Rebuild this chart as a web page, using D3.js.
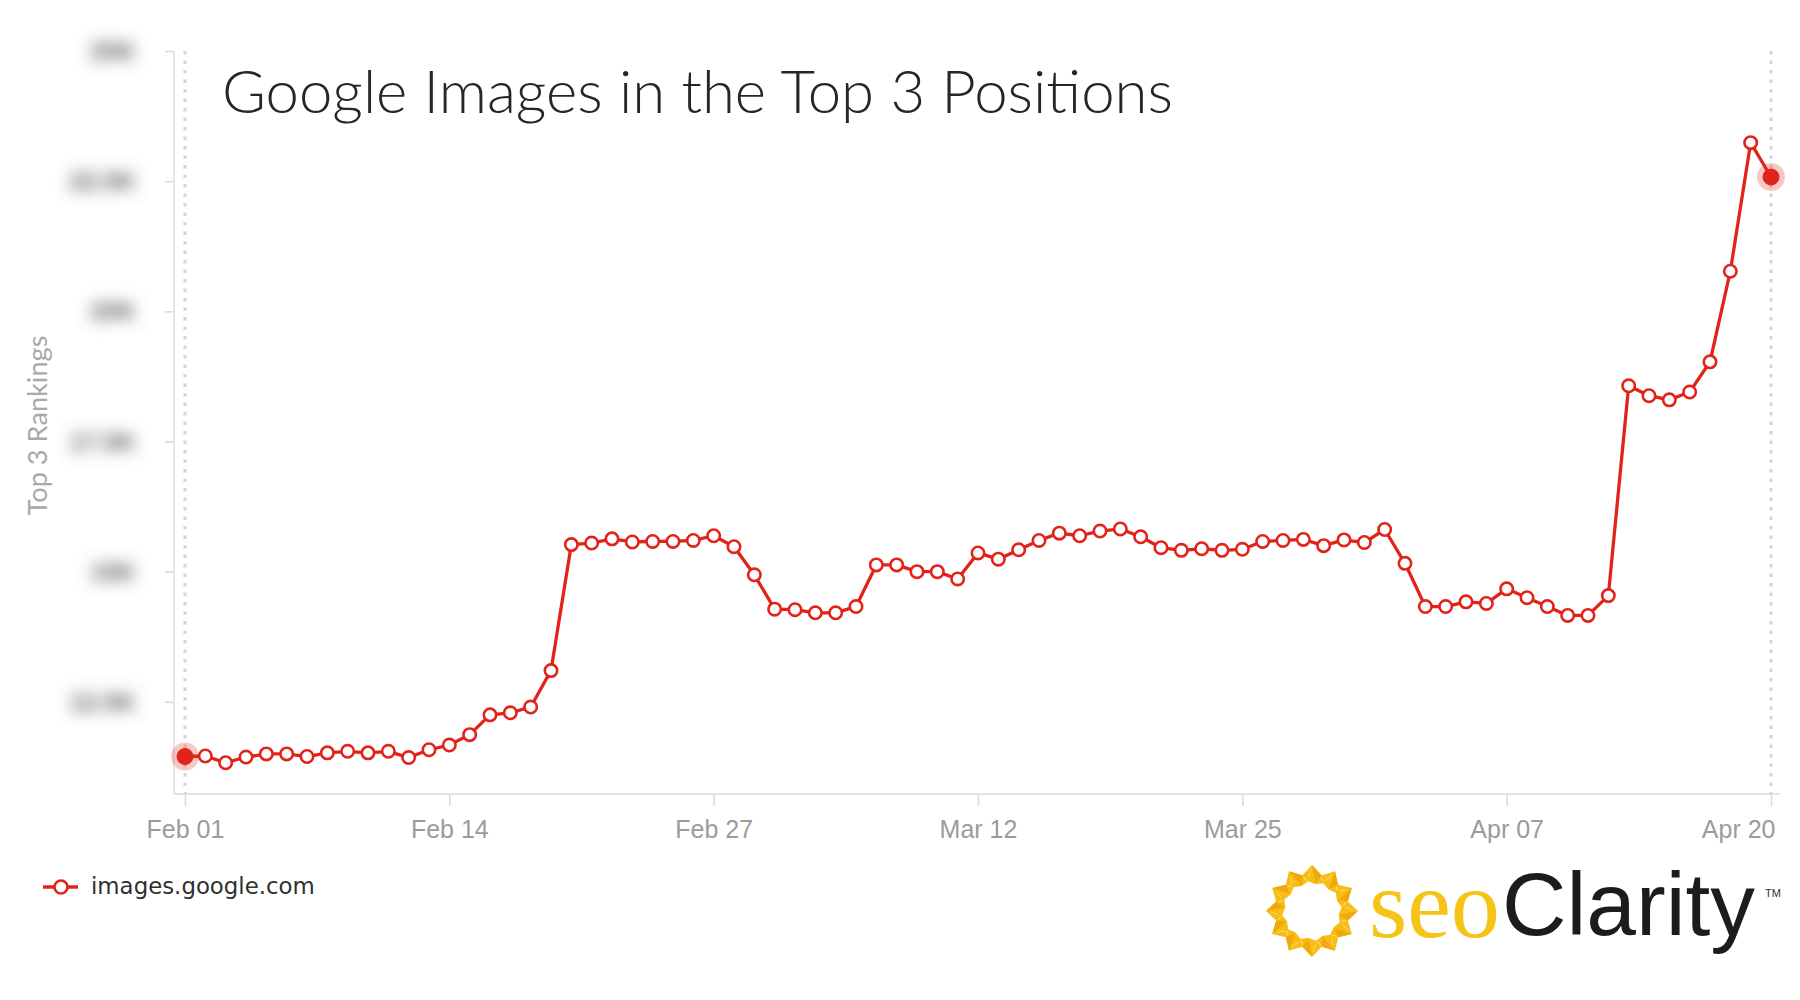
<!DOCTYPE html>
<html>
<head>
<meta charset="utf-8">
<script src="https://cdn.jsdelivr.net/npm/d3@7"></script>
<style>
  html, body { margin: 0; padding: 0; background: #fff; }
  svg { display: block; }
</style>
</head>
<body>
<svg id="chart" width="1800" height="1000"></svg>
<script>
// ---------------- data ----------------
const chartTitle = "Google Images in the Top 3 Positions";
const yAxisTitle = "Top 3 Rankings";
const seriesName = "images.google.com";
const startDate = "2017-02-01";
const endDate = "2017-04-20";
// one value per day, Feb 01 .. Apr 20
const values = [
  11450, 11460, 11330, 11440, 11500, 11500, 11450, 11520, 11550, 11520,
  11550, 11430, 11580, 11670, 11870, 12250, 12290, 12400, 13100, 15520,
  15550, 15630, 15570, 15580, 15580, 15600, 15690, 15480, 14940, 14280,
  14270, 14210, 14210, 14330, 15130, 15130, 15000, 15000, 14860, 15360,
  15240, 15420, 15600, 15740, 15690, 15780, 15820, 15670, 15460, 15410,
  15440, 15410, 15430, 15580, 15600, 15620, 15500, 15610, 15560, 15810,
  15160, 14330, 14330, 14420, 14390, 14670, 14500, 14330, 14160, 14160,
  14540, 18570, 18380, 18300, 18450, 19030, 20770, 23240, 22580
];
const xTickLabels = ["Feb 01", "Feb 14", "Feb 27", "Mar 12", "Mar 25", "Apr 07", "Apr 20"];
const yTickValues = [12500, 15000, 17500, 20000, 22500, 25000];
const yTickLabels = ["12.5K", "15K", "17.5K", "20K", "22.5K", "25K"];
const yDomain = [10730, 25000];

// ---------------- layout ----------------
const W = 1800, H = 1000;
const plot = { left: 174, right: 1780, top: 51, bottom: 794 };
const firstX = 185, lastX = 1771;
const RED = "#e2231a";

const svg = d3.select("#chart");
svg.append("rect").attr("width", W).attr("height", H).attr("fill", "#fff");

const defs = svg.append("defs");
defs.append("filter").attr("id", "blur").attr("x", "-60%").attr("y", "-150%")
  .attr("width", "220%").attr("height", "400%")
  .append("feGaussianBlur").attr("stdDeviation", 7.5);

const parseDay = d3.timeParse("%Y-%m-%d");
const days = d3.timeDay.range(parseDay(startDate), d3.timeDay.offset(parseDay(endDate), 1));
const data = days.map((d, i) => ({ date: d, value: values[i] }));

const x = d3.scaleTime().domain([parseDay(startDate), parseDay(endDate)]).range([firstX, lastX]);
const y = d3.scaleLinear().domain(yDomain).range([plot.bottom, plot.top]);

function fitText(sel, target) {
  const node = sel.node();
  const fs = parseFloat(sel.attr("font-size"));
  const w = node.getComputedTextLength();
  if (w > 0) sel.attr("font-size", (fs * target / w).toFixed(2));
  return sel;
}

// ---------------- y axis ----------------
const yAxisG = svg.append("g").attr("transform", `translate(${plot.left},0)`)
  .call(d3.axisLeft(y).tickValues(yTickValues).tickSize(9).tickFormat(""));
yAxisG.select(".domain").remove();
yAxisG.selectAll(".tick line").attr("stroke", "#d9d9d9").attr("stroke-width", 1.5);
svg.append("line")
  .attr("x1", plot.left).attr("x2", plot.left)
  .attr("y1", plot.top).attr("y2", plot.bottom)
  .attr("stroke", "#e6e6e6").attr("stroke-width", 2);

// blurred y tick labels
svg.append("g").selectAll("text").data(yTickValues).join("text")
  .attr("x", 136).attr("y", d => y(d))
  .attr("dy", "0.36em")
  .attr("text-anchor", "end")
  .attr("font-family", "Liberation Sans, Arial, sans-serif")
  .attr("font-size", 25)
  .attr("font-weight", "bold")
  .attr("fill", "#5e5e5e")
  .attr("filter", "url(#blur)")
  .text((d, i) => yTickLabels[i]);

// y axis title
const yt = svg.append("text")
  .attr("transform", `translate(47,${(335 + 516) / 2}) rotate(-90)`)
  .attr("text-anchor", "middle")
  .attr("font-family", "Lato, Open Sans, sans-serif")
  .attr("font-size", 22)
  .attr("fill", "#a9a9a9")
  .text(yAxisTitle);
fitText(yt, 180);

// ---------------- x axis ----------------
const parseTick = d3.timeParse("%b %d %Y");
const xTickDates = xTickLabels.map(s => parseTick(s + " 2017"));
const xAxisG = svg.append("g").attr("transform", `translate(0,${plot.bottom})`)
  .call(d3.axisBottom(x).tickValues(xTickDates).tickSize(12).tickFormat((d, i) => xTickLabels[i]));
xAxisG.select(".domain").remove();
xAxisG.selectAll(".tick line").attr("stroke", "#d9d9d9").attr("stroke-width", 1.5);
xAxisG.selectAll(".tick text")
  .attr("y", 44).attr("dy", 0)
  .attr("font-family", "Liberation Sans, Arial, sans-serif")
  .attr("font-size", 25)
  .attr("fill", "#9b9b9b");
// keep the last label inside the plot area (right aligned)
xAxisG.selectAll(".tick").each(function (d) {
  const t = d3.select(this).select("text");
  const w = t.node().getComputedTextLength();
  const cx = x(d);
  if (cx + w / 2 > plot.right - 5) {
    t.attr("text-anchor", "end").attr("x", (plot.right - 5) - cx);
  }
});
svg.append("line")
  .attr("x1", plot.left).attr("x2", plot.right)
  .attr("y1", plot.bottom).attr("y2", plot.bottom)
  .attr("stroke", "#e3e3e3").attr("stroke-width", 2);

// dotted vertical lines at first and last point
svg.append("g").selectAll("line").data([data[0], data[data.length - 1]]).join("line")
  .attr("x1", d => x(d.date)).attr("x2", d => x(d.date))
  .attr("y1", plot.top).attr("y2", plot.bottom)
  .attr("stroke", "#d4d4d4").attr("stroke-width", 3)
  .attr("stroke-dasharray", "3.5,6");

// ---------------- title ----------------
const title = svg.append("text")
  .attr("x", 222).attr("y", 113)
  .attr("font-family", "Lato, Open Sans, sans-serif")
  .attr("font-weight", 300)
  .attr("font-size", 58)
  .attr("fill", "#262626")
  .text(chartTitle);
fitText(title, 951);

// ---------------- series ----------------
const line = d3.line().x(d => x(d.date)).y(d => y(d.value));
svg.append("path").datum(data)
  .attr("d", line)
  .attr("fill", "none")
  .attr("stroke", RED)
  .attr("stroke-width", 3.3)
  .attr("stroke-linejoin", "round");

const inner = data.slice(1, -1);
svg.append("g").selectAll("circle").data(inner).join("circle")
  .attr("cx", d => x(d.date)).attr("cy", d => y(d.value))
  .attr("r", 6.2)
  .attr("fill", "#fff")
  .attr("stroke", RED)
  .attr("stroke-width", 2.6);

const ends = [data[0], data[data.length - 1]];
const endG = svg.append("g");
endG.selectAll("circle.halo").data(ends).join("circle").attr("class", "halo")
  .attr("cx", d => x(d.date)).attr("cy", d => y(d.value))
  .attr("r", 14)
  .attr("fill", RED).attr("fill-opacity", 0.25);
endG.selectAll("circle.dot").data(ends).join("circle").attr("class", "dot")
  .attr("cx", d => x(d.date)).attr("cy", d => y(d.value))
  .attr("r", 8)
  .attr("fill", RED)
  .attr("stroke", RED).attr("stroke-width", 1);

// ---------------- legend ----------------
const lg = svg.append("g");
lg.append("line").attr("x1", 43).attr("x2", 78).attr("y1", 887).attr("y2", 887)
  .attr("stroke", RED).attr("stroke-width", 3.3);
lg.append("circle").attr("cx", 61).attr("cy", 887).attr("r", 6.5)
  .attr("fill", "#fff").attr("stroke", RED).attr("stroke-width", 2.6);
const lt = lg.append("text").attr("x", 91).attr("y", 894)
  .attr("font-family", "DejaVu Sans, Verdana, sans-serif")
  .attr("font-size", 23)
  .attr("fill", "#2f2f2f")
  .text(seriesName);
fitText(lt, 224);

// ---------------- seoClarity logo ----------------
const logo = svg.append("g");
const cx = 1312, cy = 911;
const N = 12;
const P = (r, a) => [cx + r * Math.cos(a), cy + r * Math.sin(a)];
const ang = t => (t / N) * 2 * Math.PI - Math.PI / 2;
// base ring: spiky outer edge, slightly wavy inner edge
const outerPts = [], innerPts = [];
for (let k = 0; k < N; k++) {
  outerPts.push(P(46, ang(k)));
  outerPts.push(P(37, ang(k + 0.5)));
}
for (let k = 0; k < N; k++) {
  innerPts.push(P(27, ang(k + 0.25)));
  innerPts.push(P(30, ang(k + 0.75)));
}
logo.append("path")
  .attr("d", d3.line()(outerPts) + "Z" + d3.line()(innerPts.reverse()) + "Z")
  .attr("fill", "#f7bd14")
  .attr("fill-rule", "evenodd");
// twisted folds: darker and lighter facets
for (let k = 0; k < N; k++) {
  logo.append("path")
    .attr("d", d3.line()([P(46, ang(k)), P(37, ang(k + 0.5)), P(28, ang(k + 0.25))]) + "Z")
    .attr("fill", "#f0a80c");
  logo.append("path")
    .attr("d", d3.line()([P(44, ang(k)), P(32, ang(k - 0.3)), P(36, ang(k - 0.1))]) + "Z")
    .attr("fill", "#fcd86c");
  logo.append("path")
    .attr("d", d3.line()([P(37, ang(k + 0.5)), P(30, ang(k + 0.75)), P(33, ang(k + 0.55))]) + "Z")
    .attr("fill", "#fbe08c");
}
const seo = logo.append("text")
  .attr("x", 1369).attr("y", 937)
  .attr("font-family", "Liberation Serif, Times New Roman, serif")
  .attr("font-size", 100)
  .attr("fill", "#f6c317")
  .text("seo");
fitText(seo, 131);
const clar = logo.append("text")
  .attr("x", 1502).attr("y", 935)
  .attr("font-family", "Liberation Sans, Arial, sans-serif")
  .attr("font-size", 90)
  .attr("fill", "#1c1c1c")
  .text("Clarity");
fitText(clar, 253);
logo.append("text")
  .attr("x", 1765).attr("y", 897)
  .attr("font-family", "Liberation Sans, Arial, sans-serif")
  .attr("font-size", 11)
  .attr("fill", "#333")
  .text("TM");
</script>
</body>
</html>
